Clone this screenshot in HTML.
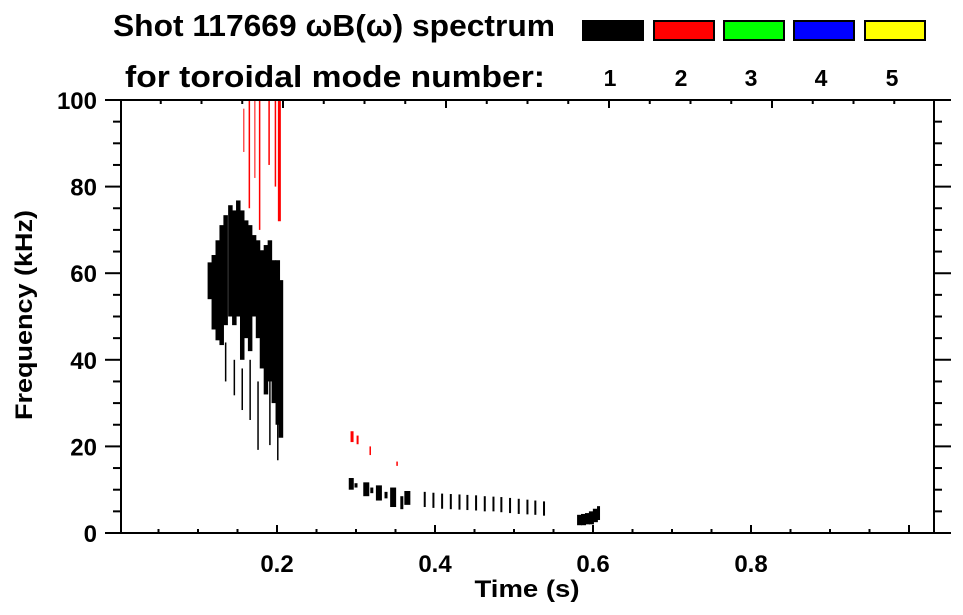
<!DOCTYPE html>
<html><head><meta charset="utf-8"><style>
body{margin:0;background:#fff;}
svg{display:block;font-family:"Liberation Sans",Arial,sans-serif;font-weight:bold;}
</style></head><body>
<svg id="chart" width="963" height="615" viewBox="0 0 963 615">
<text x="113" y="36" font-size="31" textLength="442" lengthAdjust="spacingAndGlyphs">Shot 117669 ωB(ω) spectrum</text>
<text x="125" y="87" font-size="31" textLength="420" lengthAdjust="spacingAndGlyphs">for toroidal mode number:</text>
<g id="legend"></g>
<g id="marks"></g>
<g id="axes"></g>
<text x="527" y="597" font-size="24" text-anchor="middle" textLength="105" lengthAdjust="spacingAndGlyphs">Time (s)</text>
<text transform="translate(32,315) rotate(-90)" font-size="24" text-anchor="middle" textLength="210" lengthAdjust="spacingAndGlyphs">Frequency (kHz)</text>
</svg>
<script>
const modeLabels=["1","2","3","4","5"];
const modeColors=["#000000","#ff0000","#00ff00","#0000ff","#ffff00"];
const xTicks=[0.2,0.4,0.6,0.8];
const yTicks=[0,20,40,60,80,100];
// spectrum segments: time (s), freq low (kHz), freq high (kHz), mode index
const segTime=[0.115,0.120,0.125,0.130,0.135,0.141,0.146,0.151,0.156,0.161,0.166,0.171,0.176,0.181,0.186,0.191,0.196,0.201,0.205,
0.135,0.146,0.156,0.166,0.176,0.191,0.201,
0.203,0.198,0.190,0.178,0.165,0.172,0.158,
0.295,0.302,0.318,0.352,
0.294,0.313,0.329,0.347,0.365,0.300,0.320,0.338,0.358,
0.387,0.398,0.409,0.420,0.431,0.441,0.452,0.463,0.474,0.484,0.495,0.506,0.517,0.527,0.538,
0.583,0.588,0.593,0.598,0.603,0.607];
const segLow=[54,47,44.5,43.4,48,50,48,50,40,45,42,50,45,38,32,35,30,25,22,
35,31.8,28.4,26.1,19.2,20.3,16.8,
72,80,85,70,75,82,88,
21,20.5,18,15.5,
10,8.5,7.5,6,6.5,10.5,9.2,8,5.5,
6,5.8,5.6,5.5,5.4,5.3,5.2,5,5,4.8,4.6,4.4,4.3,4.2,4,
1.8,1.8,2,2,2.5,3];
const segHigh=[62.5,64.2,67.6,71.1,73.4,75.7,74.5,76.8,74.5,72.2,71.1,68.8,67.6,65.3,66.5,67.6,63,63,58.4,
44,40,38,40,35,36,28,
100,100,100,100,100,100,98,
23.5,22.5,20,16.5,
12.7,11.7,11,10.5,9.7,11.5,10.5,9.5,8.5,
9.5,9.3,9.1,9,8.9,8.8,8.7,8.5,8.4,8.3,8.1,7.9,7.7,7.5,7.3,
4.2,4.4,4.6,5,5.6,6.2];
const segMode=[0,0,0,0,0,0,0,0,0,0,0,0,0,0,0,0,0,0,0,
0,0,0,0,0,0,0,
1,1,1,1,1,1,1,
1,1,1,1,
0,0,0,0,0,0,0,0,0,
0,0,0,0,0,0,0,0,0,0,0,0,0,0,0,
0,0,0,0,0,0];
const segWidth=[4.5,4.5,4.5,4.5,4.5,4.5,4.5,4.5,4.5,4.5,4.5,4.5,4.5,4.5,4.5,4.5,4.5,4.5,4.5,
1.5,1.5,1.5,1.5,1.5,1.5,1.5,
3,1.5,1.5,1.5,1.5,1,1,
3,2,1.5,1.5,
5,6,6,6,6,3,3,3,3,
2,2,2,2,2,2,2,2,2,2,2,2,2,2,2,
5,5,5,5,5,3];

const NS='http://www.w3.org/2000/svg';
const L=121,R=934,T=100,B=533,X0=119,PX=790;
const xs=t=>X0+t*PX;
const ys=f=>B-(f/100)*(B-T);
function mk(tag,attrs,parent){const e=document.createElementNS(NS,tag);for(const k in attrs)e.setAttribute(k,attrs[k]);parent.appendChild(e);return e;}

const marks=document.getElementById('marks');
for(let i=0;i<segTime.length;i++){
  const w=segWidth[i];
  const r=mk('rect',{x:xs(segTime[i])-w/2,y:ys(segHigh[i]),width:w,height:Math.max(1,ys(segLow[i])-ys(segHigh[i])),fill:modeColors[segMode[i]]},marks);
  
  
}

const lg=document.getElementById('legend');
const boxX=[582,653,723,793,864];
for(let i=0;i<modeLabels.length;i++){
  const b=mk('rect',{x:boxX[i]+1,y:21,width:60,height:19,fill:modeColors[i],stroke:'#000','stroke-width':2},lg);
  
  
  const t=mk('text',{x:boxX[i]+28,y:86,'font-size':23,'text-anchor':'middle'},lg);
  t.textContent=modeLabels[i];
  
  
}

const ax=document.getElementById('axes');
const st={stroke:'#000','stroke-width':2};
mk('line',Object.assign({x1:105,y1:B,x2:951,y2:B},st),ax);
mk('line',Object.assign({x1:105,y1:T,x2:951,y2:T},st),ax);
mk('line',Object.assign({x1:L,y1:T,x2:L,y2:B+1},st),ax);
mk('line',Object.assign({x1:R,y1:T,x2:R,y2:B+1},st),ax);
for(let f=0;f<=100;f+=5){
  const y=ys(f),maj=f%20===0;
  mk('line',Object.assign({x1:maj?105:113,y1:y,x2:L,y2:y},st),ax);
  mk('line',Object.assign({x1:R,y1:y,x2:maj?951:942,y2:y},st),ax);
}
for(let k=1;k*0.05<1.03;k++){
  const t=k*0.05,x=xs(t),maj=k%4===0;
  mk('line',Object.assign({x1:x,y1:B,x2:x,y2:B-(maj?8:4)},st),ax);
}
for(let k=1;k<20;k++){
  const x=120+k*40.75;if(x>=R)break;
  mk('line',Object.assign({x1:x,y1:T,x2:x,y2:T+(k%4===0?8:4)},st),ax);
}
yTicks.forEach(v=>{const t=mk('text',{x:97,y:ys(v)+9,'font-size':24,'text-anchor':'end'},ax);t.textContent=v;
  });
xTicks.forEach(v=>{const t=mk('text',{x:xs(v),y:572,'font-size':24,'text-anchor':'middle'},ax);t.textContent=v.toFixed(1);
  });
</script>
</body></html>
